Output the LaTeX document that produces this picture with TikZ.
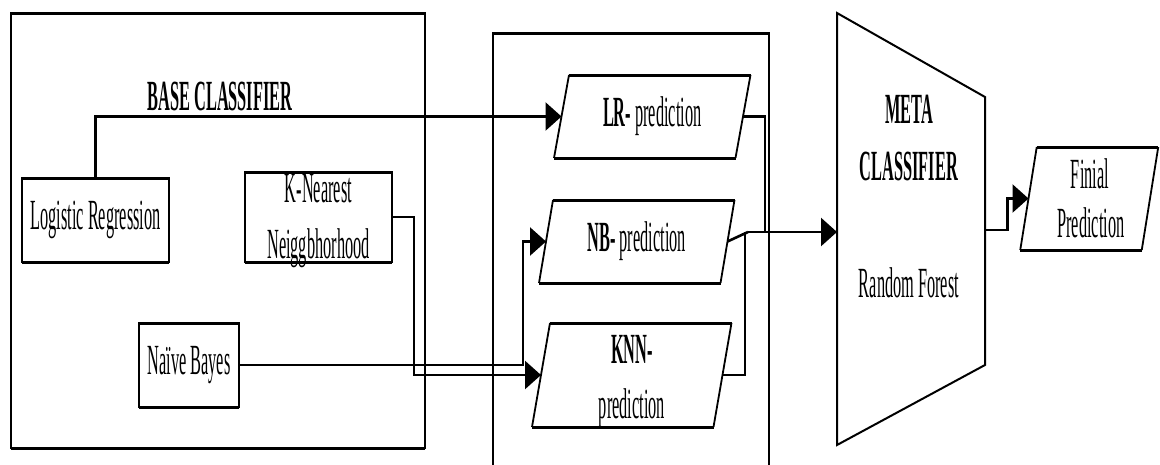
\documentclass[tikz,border=0pt]{standalone}
\usepackage{fontspec}
\setmainfont{Liberation Serif}[FakeStretch=0.38]
\usetikzlibrary{arrows.meta}
\begin{document}
\begin{tikzpicture}[x=1pt,y=-1pt,
  every node/.style={inner sep=0pt, outer sep=0pt},
  txt/.style={font=\fontsize{43}{55}\selectfont},
  btxt/.style={font=\fontsize{43}{55}\selectfont\bfseries},
  thinb/.style={draw, line width=1.4pt},
  slantb/.style={line width=1.8pt},
  thickedge/.style={line width=3pt},
  parabody/.style={txt, rectangle},
  conn/.style={line width=2.6pt},
  arr/.style={conn, -{Triangle[length=16pt,width=28pt]}},
]
\useasboundingbox (0,0) rectangle (1160,464);

% big containers
\node[thinb, minimum width=414pt, minimum height=435pt] (base) at (218,230.5) {};
\draw[thickedge] (base.north west) -- (base.north east) (base.south west) -- (base.south east);
\node[thinb, minimum width=276pt, minimum height=460pt, anchor=north west] (mid) at (493,33) {};
\draw[thickedge] (mid.north west) -- (mid.north east);

\node[btxt, anchor=base] (basetitle) at (220,110) {BASE CLASSIFIER};

% base classifiers
\node[thinb, txt, minimum width=147pt, minimum height=84pt] (lr) at (95.5,220) {Logistic Regression};
\node[thinb, minimum width=147pt, minimum height=90pt] (knn) at (318.5,217) {};
\node[thinb, txt, minimum width=100pt, minimum height=84pt] (nbb) at (189,365) {Naïve Bayes};
\foreach \n in {lr,knn,nbb}{
  \draw[thickedge] (\n.north west) -- (\n.north east) (\n.south west) -- (\n.south east);
}
\node[txt, anchor=base] (knn1) at (318.5,202) {K-Nearest};
\node[txt, anchor=base] (knn2) at (318.5,258) {Neiggbhorhood};

% predictions (parallelograms around a rectangular body)
\node[parabody, minimum width=181.5pt, minimum height=83pt] (lrp) at (652.25,116.5) {\textbf{LR-} prediction};
\node[parabody, minimum width=181.5pt, minimum height=83pt] (nbp) at (636.75,241.5) {\textbf{NB-} prediction};
\node[parabody, minimum width=181.5pt, minimum height=104pt] (knnp) at (631.75,375) {};
\node[parabody, minimum width=121.5pt, minimum height=103pt] (fin) at (1089.25,198.5) {};
\foreach \n/\s in {lrp/15,nbp/14,knnp/18,fin/16.5}{
  \draw[slantb] ([xshift=\s/2]\n.north east) -- ([xshift=-\s/2]\n.south east)
                ([xshift=-\s/2]\n.south west) -- ([xshift=\s/2]\n.north west);
  \draw[thickedge] ([xshift=\s/2]\n.north west) -- ([xshift=\s/2]\n.north east)
                   ([xshift=-\s/2]\n.south west) -- ([xshift=-\s/2]\n.south east);
}
\node[btxt, anchor=base] (knnpa) at (632,363) {KNN-};
\node[txt, anchor=base] (knnpb) at (632,418) {prediction};
\node[txt, anchor=base] (fin1) at (1090,188) {Finial};
\node[txt, anchor=base] (fin2) at (1091,237) {Prediction};

% meta classifier
\coordinate (m1) at (837,13);
\coordinate (m2) at (985,97);
\coordinate (m3) at (985,365);
\coordinate (m4) at (837,445);
\draw[line width=2pt, line join=miter] (m1) -- (m2) -- (m3) -- (m4) -- cycle;
\coordinate (metain) at (837,232);
\coordinate (metaout) at (985,230);
\node[btxt, anchor=base] (meta1) at (909,123) {META};
\node[btxt, anchor=base] (meta2) at (909,180) {CLASSIFIER};
\node[txt, anchor=base] (meta3) at (909,297) {Random Forest};

% connectors
\coordinate (j) at (748,232);
\draw[arr] (lr.north) |- (lrp.west);
\draw[arr] (knn.east) -- ++(22,0) |- (knnp.west);
\draw[arr] (nbb.east) -| ([xshift=-23pt]nbp.west) -- (nbp.west);
\draw[conn] (lrp.east) -| ([xshift=17pt]j);
\draw[conn] (nbp.east) -- (j);
\draw[conn] (knnp.east) -| ([xshift=-3pt]j);
\draw[arr] (j) -- (metain);
\draw[arr] (metaout) -| ([xshift=-21pt]fin.west) -- (fin.west);
\end{tikzpicture}
\end{document}
